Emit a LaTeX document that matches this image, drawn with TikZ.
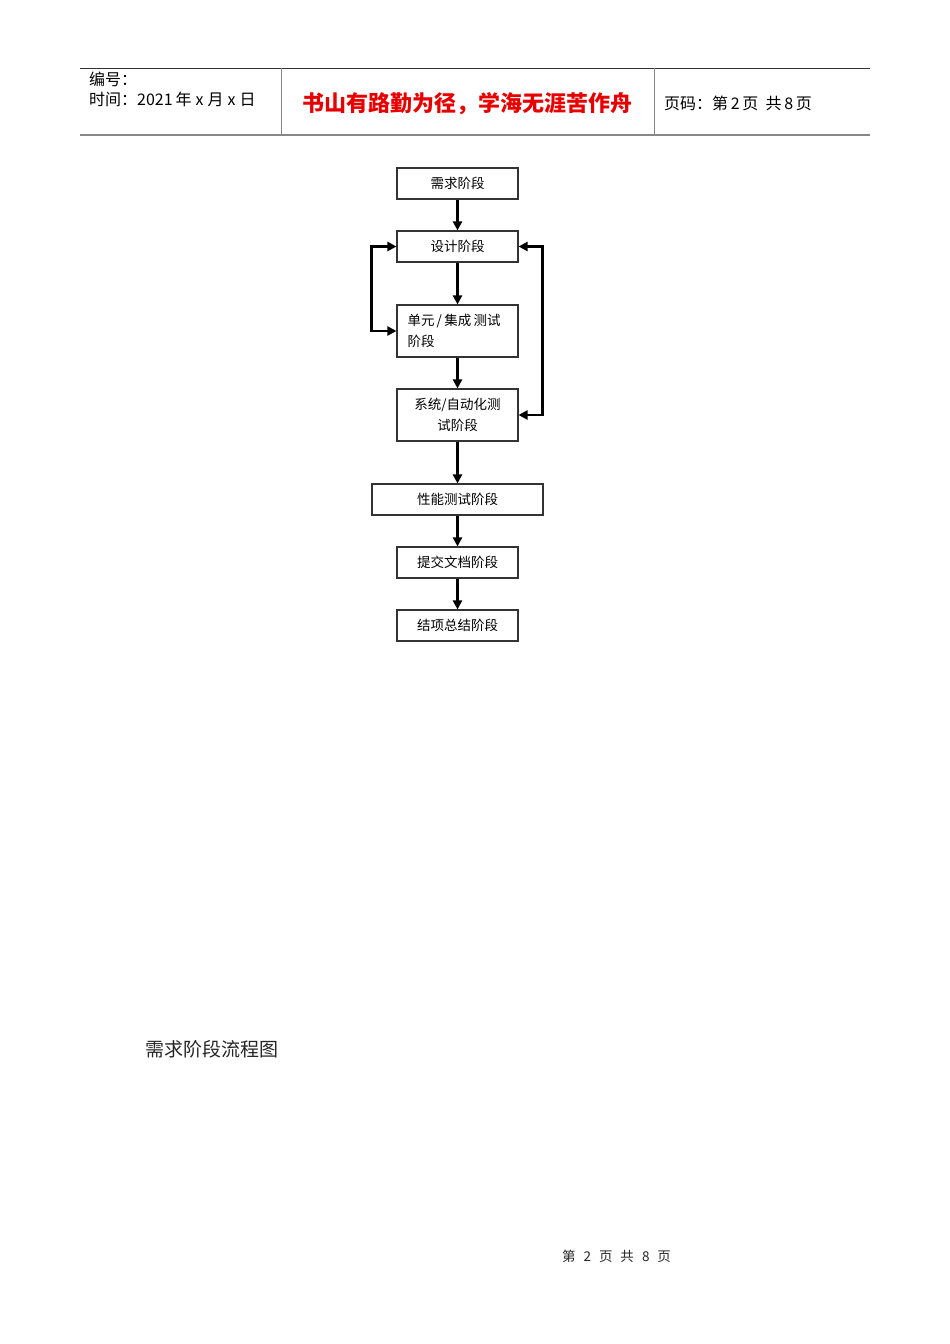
\documentclass[tikz,border=0pt]{standalone}
\usepackage{fontspec}
\setmainfont{Noto Sans CJK SC}
\usetikzlibrary{arrows.meta,positioning}
\definecolor{mottored}{RGB}{230,0,0}
\definecolor{rulegrey}{RGB}{135,135,135}

\begin{document}
\begin{tikzpicture}[x=1pt, y=-1pt,
    stagebox/.style={rectangle, draw=black!80, line width=1.1pt, minimum width=121pt, minimum height=31pt, font=\fontsize{13.5}{21}\selectfont, align=center, inner sep=0pt},
    arrow/.style={-{Triangle[length=9pt,width=9pt]}, line width=2.4pt},
    backarrow/.style={{Triangle[length=9pt,width=9pt]}-{Triangle[length=9pt,width=9pt]}, line width=2.4pt},
    headtext/.style={font=\fontsize{16}{20}\selectfont, anchor=west, inner sep=0pt}
]
    % Page
    \fill[white] (0,0) rectangle (950,1344);
    \useasboundingbox (0,0) rectangle (950,1344);

    % Header table
    \draw[line width=0.8pt, black!80] (80,68) -- (870,68);
    \draw[line width=2pt, rulegrey] (80,135) -- (870,135);
    \draw[line width=1pt, rulegrey] (281,68) -- (281,135);
    \draw[line width=1pt, rulegrey] (654,68) -- (654,135);
    \node[headtext] (num) at (89,79) {编号：};
    \node[headtext] (date) at (89,99) {时间：2021\hspace{3pt}年\hspace{4pt}x\hspace{4pt}月\hspace{4pt}x\hspace{4pt}日};
    \node[font=\fontsize{22}{26}\selectfont\bfseries, text=mottored, inner sep=0pt] (motto) at (467.5,104) {书山有路勤为径，学海无涯苦作舟};
    \node[headtext] (pageno) at (664,103) {页码：第\,2\,页\ \ 共\,8\,页};

    % Stages
    \node[stagebox] (s1) at (457.5,183.5) {需求阶段};
    \node[stagebox] (s2) at (457.5,246.5) {设计阶段};
    \node[stagebox, minimum height=52pt, align=left, text width=100pt] (s3) at (457.5,331) {单元\,/\,集成\,测试\\阶段};
    \node[stagebox, minimum height=52pt] (s4) at (457.5,415) {系统/自动化测\\试阶段};
    \node[stagebox, minimum width=171pt] (s5) at (457.5,499.5) {性能测试阶段};
    \node[stagebox] (s6) at (457.5,562.5) {提交文档阶段};
    \node[stagebox] (s7) at (457.5,625.5) {结项总结阶段};

    % Arrows
    \foreach \a/\b in {s1/s2,s2/s3,s3/s4,s4/s5,s5/s6,s6/s7} \draw[arrow] (\a.south) -- (\b.north);
    \draw[backarrow] (s2.west) -- ++(-25,0) |- (s3.west);
    \draw[backarrow] (s2.east) -- ++(24,0) |- (s4.east);

    % Caption and footer
    \node[font=\fontsize{19}{22}\selectfont, anchor=west, inner sep=0pt, text=black!85] (caption) at (145,1049) {需求阶段流程图};
    \node[font=\fontsize{13.5}{16}\selectfont, inner sep=0pt, text=black!85] (footer) at (616.5,1256) {第\hspace{8pt}2\hspace{8pt}页\hspace{8pt}共\hspace{8pt}8\hspace{8pt}页};
\end{tikzpicture}
\end{document}
